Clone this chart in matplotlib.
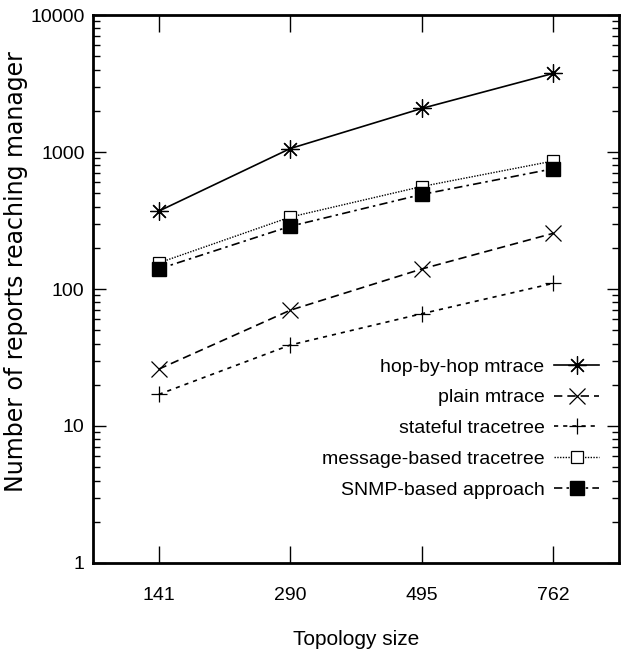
import matplotlib
matplotlib.use('Agg')
import matplotlib.pyplot as plt
from matplotlib.ticker import LogLocator, NullFormatter, FixedLocator

plt.rcParams['figure.dpi'] = 100
plt.rcParams['font.family'] = ['Liberation Sans', 'DejaVu Sans']

topology_sizes = ['141', '290', '495', '762']
hop_by_hop = [370, 1060, 2080, 3750]
plain_mtrace = [26, 70, 140, 255]
stateful_tracetree = [17, 39, 66, 110]
message_tracetree = [155, 335, 560, 860]
snmp_approach = [140, 287, 490, 755]

x = list(range(len(topology_sizes)))

fig = plt.figure(figsize=(6.28, 6.59))
ax = fig.add_axes([0.148, 0.1457, 0.8377, 0.8315])

ax.plot(x, hop_by_hop, color='black', lw=1.2, linestyle='-', marker=(8, 2, 0),
        markersize=13, markeredgewidth=0.9, label='hop-by-hop mtrace')
ax.plot(x, plain_mtrace, color='black', lw=1.2, linestyle=(0, (5, 3)), marker='x',
        markersize=11, markeredgewidth=0.9, label='plain mtrace')
ax.plot(x, stateful_tracetree, color='black', lw=1.2, linestyle=(0, (2.5, 3)), marker='+',
        markersize=12, markeredgewidth=0.9, label='stateful tracetree')
ax.plot(x, message_tracetree, color='black', lw=1.0, linestyle=(0, (1, 1)), marker='s',
        markersize=9, markerfacecolor='white', markeredgewidth=0.9, label='message-based tracetree')
ax.plot(x, snmp_approach, color='black', lw=1.2, linestyle=(0, (5, 2.5, 1.5, 2.5)), marker='s',
        markersize=10, markerfacecolor='black', label='SNMP-based approach')

ax.set_yscale('log')
ax.set_ylim(1, 10000)
ax.set_xlim(-0.5, 3.5)
ax.set_xticks(x)
ax.set_xticklabels(topology_sizes)
ax.yaxis.set_major_locator(FixedLocator([1, 10, 100, 1000, 10000]))
ax.set_yticklabels(['1', '10', '100', '1000', '10000'])
ax.yaxis.set_minor_locator(LogLocator(base=10, subs=range(2, 10)))
ax.yaxis.set_minor_formatter(NullFormatter())

ax.tick_params(which='both', direction='in', top=True, right=True, labelsize=14, width=1.0)
ax.tick_params(axis='x', which='major', length=12, pad=17)
ax.tick_params(axis='y', which='major', length=9, pad=6)
ax.tick_params(axis='y', which='minor', length=5)
for s in ax.spines.values():
    s.set_linewidth(2)

ax.set_xlabel('Topology size', fontsize=15, labelpad=19)
ax.set_ylabel('Number of reports reaching manager', fontsize=17, family='DejaVu Sans')
ax.yaxis.set_label_coords(-0.123, 0.531)

ax.legend(loc='lower right', bbox_to_anchor=(0.962, 0.117), markerfirst=False, frameon=False,
          fontsize=14, handlelength=2.3, handletextpad=0.5, labelspacing=0.68,
          borderpad=0, borderaxespad=0)

fig.savefig('out.png', dpi=100)
